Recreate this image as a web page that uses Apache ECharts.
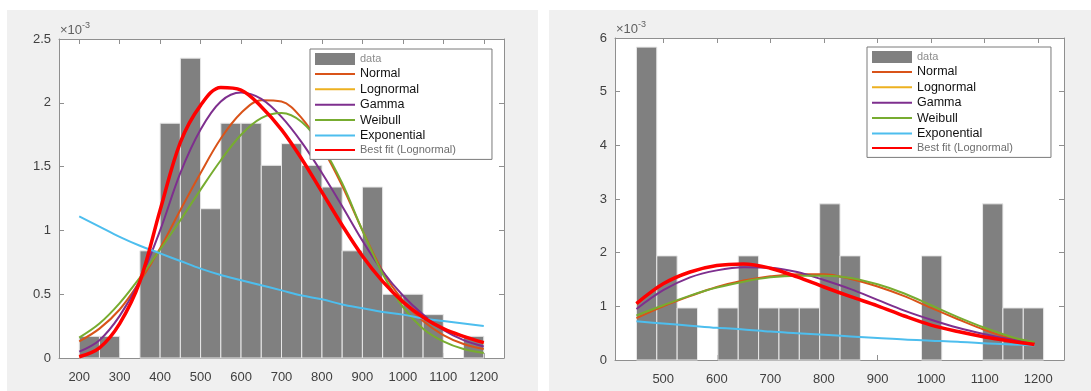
<!DOCTYPE html>
<html>
<head>
<meta charset="utf-8">
<script src="https://cdn.jsdelivr.net/npm/echarts@6/dist/echarts.min.js"></script>
<style>
  html, body { margin: 0; padding: 0; background: #fff; }
  #wrap { position: relative; width: 1091px; height: 391px; }
  .panel { position: absolute; top: 10px; height: 381px; background: #f0f0f0; }
  #chart { position: absolute; left: 0; top: 0; width: 1091px; height: 391px; }
</style>
</head>
<body>
<div id="wrap">
  <div class="panel" style="left:7px;width:531px"></div>
  <div class="panel" style="left:549px;width:542px"></div>
  <div id="chart"></div>
</div>
<script>
// densities are kept in units of 1e-3 (the axes show x10^-3)

// left histogram: bin edges and heights
const leftEdges = [200, 250, 300, 350, 400, 450, 500, 550, 600, 650, 700,
  750, 800, 850, 900, 950, 1000, 1050, 1100, 1150, 1200];
const leftHeights = [0.17, 0.17, 0, 0.84, 1.84, 2.35, 1.17, 1.84, 1.84, 1.51,
  1.68, 1.51, 1.34, 0.84, 1.34, 0.50, 0.50, 0.34, 0, 0.17];

// left fitted curves
const leftX = [200, 250, 300, 350, 400, 450, 500, 550, 600, 650, 700,
  750, 800, 850, 900, 950, 1000, 1050, 1100, 1150, 1200];
const leftNormal = [0.13, 0.23, 0.38, 0.60, 0.86, 1.16, 1.45, 1.72, 1.92, 2.02, 2.01,
  1.88, 1.65, 1.35, 1.00, 0.68, 0.45, 0.29, 0.18, 0.11, 0.07];
const leftLognormal = [0.01, 0.08, 0.27, 0.60, 1.16, 1.69, 1.98, 2.12, 2.10, 1.97, 1.79,
  1.56, 1.30, 1.04, 0.80, 0.60, 0.44, 0.32, 0.23, 0.17, 0.12];
const leftGamma = [0.05, 0.14, 0.33, 0.61, 1.00, 1.45, 1.79, 2.01, 2.08, 2.03, 1.89,
  1.69, 1.45, 1.19, 0.92, 0.68, 0.49, 0.34, 0.22, 0.14, 0.09];
const leftWeibull = [0.16, 0.27, 0.43, 0.63, 0.85, 1.08, 1.32, 1.55, 1.75, 1.88, 1.92,
  1.85, 1.66, 1.37, 1.00, 0.66, 0.40, 0.23, 0.13, 0.07, 0.04];
const leftExponential = [1.11, 1.03, 0.95, 0.88, 0.82, 0.76, 0.70, 0.65, 0.61, 0.57, 0.53,
  0.49, 0.46, 0.42, 0.39, 0.36, 0.34, 0.31, 0.29, 0.27, 0.25];

// right histogram
const rightEdges = [450, 488, 526, 564, 602, 640, 678, 716, 754, 792, 830,
  868, 906, 944, 982, 1020, 1058, 1096, 1134, 1172, 1210];
const rightHeights = [5.83, 1.94, 0.97, 0, 0.97, 1.94, 0.97, 0.97, 0.97, 2.91,
  1.94, 0, 0, 0, 1.94, 0, 0, 2.91, 0.97, 0.97];

// right fitted curves
const rightX = [450, 500, 550, 600, 650, 700, 750, 800, 850, 900, 950,
  1000, 1050, 1100, 1150, 1193];
const rightNormal = [0.78, 1.00, 1.19, 1.36, 1.48, 1.56, 1.60, 1.60, 1.51, 1.37, 1.19,
  0.97, 0.76, 0.56, 0.40, 0.31];
const rightLognormal = [1.05, 1.42, 1.64, 1.76, 1.79, 1.71, 1.55, 1.36, 1.18, 1.01, 0.82,
  0.65, 0.53, 0.43, 0.35, 0.29];
const rightGamma = [0.95, 1.30, 1.54, 1.67, 1.73, 1.72, 1.64, 1.49, 1.32, 1.12, 0.92,
  0.75, 0.60, 0.48, 0.38, 0.31];
const rightWeibull = [0.83, 1.02, 1.20, 1.35, 1.46, 1.54, 1.57, 1.57, 1.53, 1.41, 1.24,
  1.02, 0.80, 0.60, 0.43, 0.33];
const rightExponential = [0.72, 0.68, 0.64, 0.60, 0.57, 0.53, 0.50, 0.47, 0.44, 0.41, 0.38,
  0.36, 0.34, 0.31, 0.29, 0.27];

// tick labels
const leftXTicks = [200, 300, 400, 500, 600, 700, 800, 900, 1000, 1100, 1200];
const rightXTicks = [500, 600, 700, 800, 900, 1000, 1100, 1200];

const FONT = 'Liberation Sans, Arial, sans-serif';
const AXIS = '#8f8f8f';
const COLORS = {
  Normal: '#D95319', Lognormal: '#EDB120', Gamma: '#7E2F8E',
  Weibull: '#77AC30', Exponential: '#4DBEEE', best: '#FF0000'
};

const chart = echarts.init(document.getElementById('chart'));

function bars(edges, heights) {
  return heights.map((h, i) => [edges[i], edges[i + 1], h]);
}

function renderBar(params, api) {
  const h = api.value(2);
  if (!h) return;
  const p0 = api.coord([api.value(0), h]);
  const p1 = api.coord([api.value(1), 0]);
  return {
    type: 'rect',
    shape: { x: p0[0], y: p0[1], width: p1[0] - p0[0], height: p1[1] - p0[1] },
    style: { fill: '#808080', stroke: '#e8e8e8', lineWidth: 1 }
  };
}

function curve(name, xs, ys, color, width, idx) {
  return {
    type: 'line', name: name, xAxisIndex: idx, yAxisIndex: idx,
    data: xs.map((x, i) => [x, ys[i]]),
    smooth: 0.35, symbol: 'none', showSymbol: false, silent: true,
    lineStyle: { color: color, width: width }, itemStyle: { color: color }
  };
}

function xAxes(grid, min, max, ticks) {
  const base = {
    type: 'value', gridIndex: grid, min: min, max: max,
    axisLine: { show: true, onZero: false, lineStyle: { color: AXIS } },
    axisTick: { show: true, inside: true, length: 5, customValues: ticks, lineStyle: { color: AXIS } },
    splitLine: { show: false }
  };
  return [
    Object.assign({}, base, {
      position: 'bottom',
      axisLabel: { customValues: ticks, margin: 13, fontSize: 13, color: '#404040',
        fontFamily: FONT, formatter: v => String(v) }
    }),
    Object.assign({}, base, { position: 'top', axisLabel: { show: false } })
  ];
}

function yAxes(grid, max, interval) {
  const base = {
    type: 'value', gridIndex: grid, min: 0, max: max, interval: interval,
    axisLine: { show: true, lineStyle: { color: AXIS } },
    axisTick: { show: true, inside: true, length: 5, lineStyle: { color: AXIS } },
    splitLine: { show: false }
  };
  return [
    Object.assign({}, base, {
      position: 'left',
      axisLabel: { margin: 8, fontSize: 13, color: '#404040', fontFamily: FONT },
      name: '{a|\u00d710}{b|-3}',
      nameLocation: 'end',
      nameGap: 2,
      nameTextStyle: {
        align: 'left', padding: [0, 0, 0, 1],
        rich: {
          a: { fontSize: 13, color: '#606060', fontFamily: FONT, verticalAlign: 'bottom', lineHeight: 16 },
          b: { fontSize: 9, color: '#606060', fontFamily: FONT, verticalAlign: 'top' }
        }
      }
    }),
    Object.assign({}, base, { position: 'right', axisLabel: { show: false } })
  ];
}

const lineNames = ['Normal', 'Lognormal', 'Gamma', 'Weibull', 'Exponential'];
const legendData = [
  { name: 'data', icon: 'rect', itemStyle: { color: '#808080' },
    textStyle: { color: '#8c8c8c', fontSize: 11 } }
].concat(lineNames.map(n => ({ name: n, itemStyle: { opacity: 0 } })))
 .concat([{ name: 'Best fit (Lognormal)', itemStyle: { opacity: 0 },
    textStyle: { color: '#6e6e6e', fontSize: 11 } }]);

function legend(left, top, padRight) {
  return {
    orient: 'vertical', left: left, top: top,
    itemWidth: 40, itemHeight: 12, itemGap: 2.4,
    padding: [4, padRight, 4, 4],
    borderColor: '#7a7a7a', borderWidth: 1, backgroundColor: '#fff', borderRadius: 0,
    selectedMode: false,
    textStyle: { fontSize: 12.5, color: '#111', fontFamily: FONT },
    data: legendData
  };
}

const xl = xAxes(0, 150, 1250, leftXTicks);
const xr = xAxes(1, 410, 1248, rightXTicks);
const yl = yAxes(0, 2.5, 0.5);
const yr = yAxes(1, 6, 1);

chart.setOption({
  backgroundColor: 'transparent',
  animation: false,
  grid: [
    { left: 59, right: 587, top: 39, bottom: 33, show: true, backgroundColor: '#fff', borderWidth: 0 },
    { left: 615, right: 27, top: 38, bottom: 31, show: true, backgroundColor: '#fff', borderWidth: 0 }
  ],
  // order: 0 left-bottom, 1 right-bottom, 2 left-top, 3 right-top
  xAxis: [xl[0], xr[0], xl[1], xr[1]],
  yAxis: [yl[0], yr[0], yl[1], yr[1]],
  legend: [legend(310, 49, 36), legend(867, 47, 38)],
  series: [
    { type: 'custom', name: 'data', xAxisIndex: 0, yAxisIndex: 0, renderItem: renderBar,
      data: bars(leftEdges, leftHeights), encode: { x: [0, 1], y: 2 },
      itemStyle: { color: '#808080' }, silent: true },
    curve('Normal', leftX, leftNormal, COLORS.Normal, 2, 0),
    curve('Lognormal', leftX, leftLognormal, COLORS.Lognormal, 2, 0),
    curve('Gamma', leftX, leftGamma, COLORS.Gamma, 2, 0),
    curve('Weibull', leftX, leftWeibull, COLORS.Weibull, 2, 0),
    curve('Exponential', leftX, leftExponential, COLORS.Exponential, 2, 0),
    curve('Best fit (Lognormal)', leftX, leftLognormal, COLORS.best, 3.5, 0),

    { type: 'custom', name: 'data', xAxisIndex: 1, yAxisIndex: 1, renderItem: renderBar,
      data: bars(rightEdges, rightHeights), encode: { x: [0, 1], y: 2 },
      itemStyle: { color: '#808080' }, silent: true },
    curve('Normal', rightX, rightNormal, COLORS.Normal, 2, 1),
    curve('Lognormal', rightX, rightLognormal, COLORS.Lognormal, 2, 1),
    curve('Gamma', rightX, rightGamma, COLORS.Gamma, 2, 1),
    curve('Weibull', rightX, rightWeibull, COLORS.Weibull, 2, 1),
    curve('Exponential', rightX, rightExponential, COLORS.Exponential, 2, 1),
    curve('Best fit (Lognormal)', rightX, rightLognormal, COLORS.best, 3.5, 1)
  ]
});
</script>
</body>
</html>
